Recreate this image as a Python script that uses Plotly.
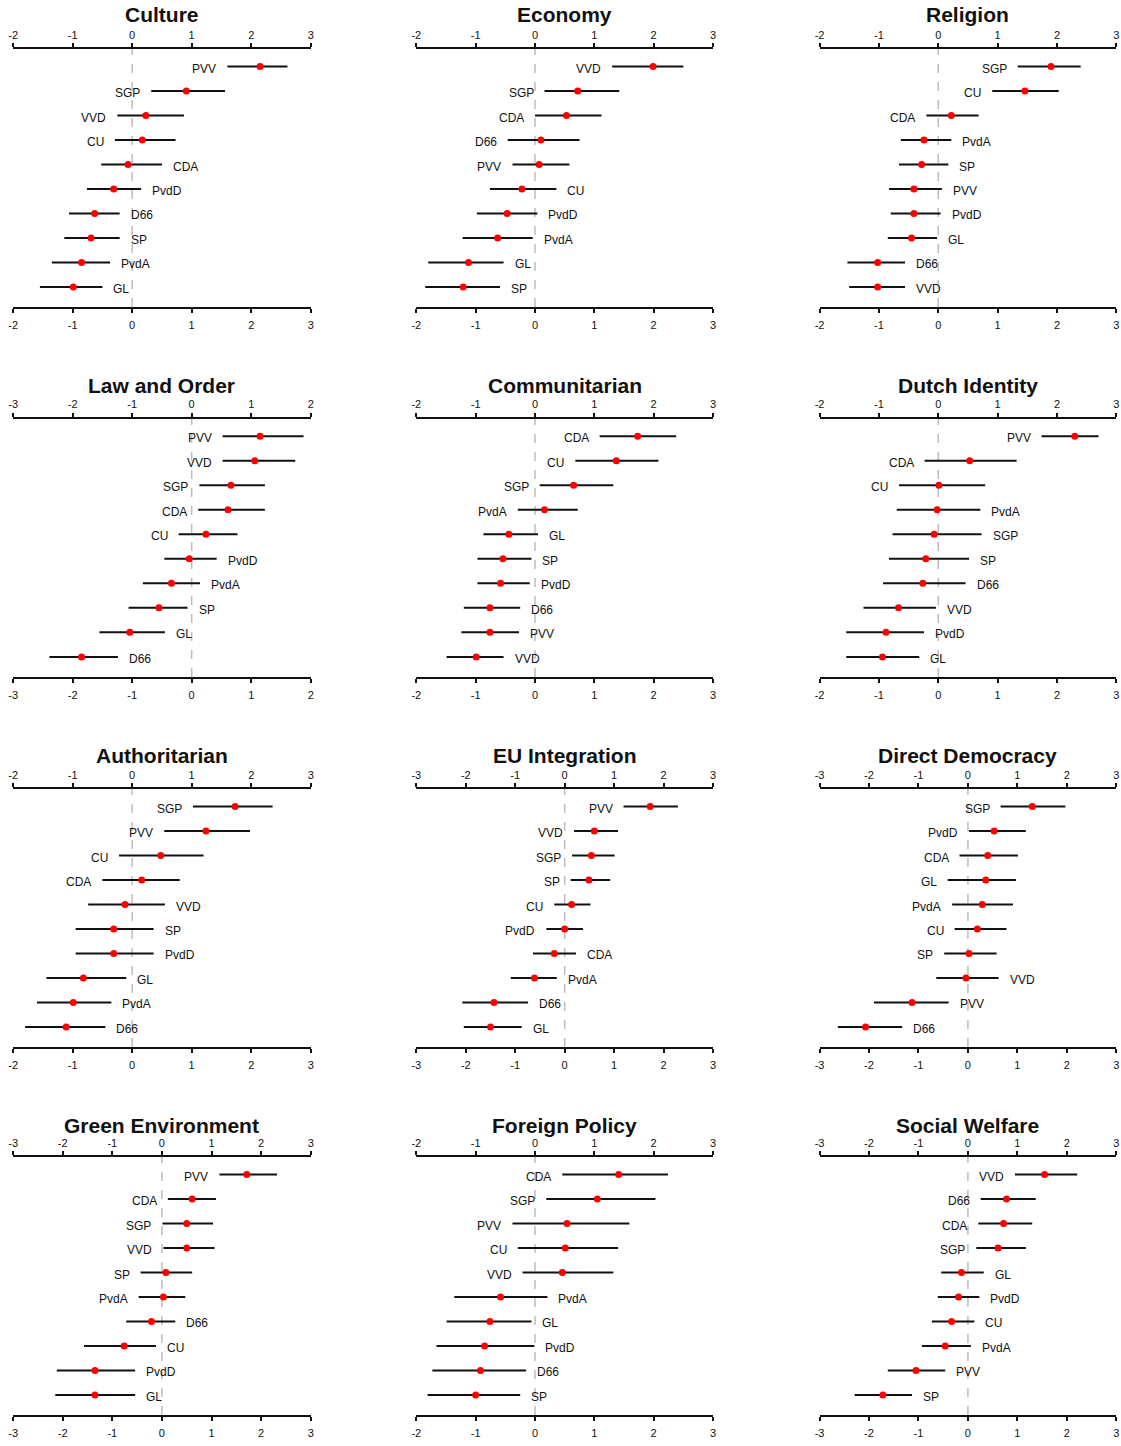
import plotly.graph_objects as go

# ---------------- data ----------------
titles = ["Culture", "Economy", "Religion",
          "Law and Order", "Communitarian", "Dutch Identity",
          "Authoritarian", "EU Integration", "Direct Democracy",
          "Green Environment", "Foreign Policy", "Social Welfare"]

axis_min = [-2, -2, -2, -3, -2, -2, -2, -3, -3, -3, -2, -3]
axis_max = [3, 3, 3, 2, 3, 3, 3, 3, 3, 3, 3, 3]

culture_parties = ["PVV", "SGP", "VVD", "CU", "CDA", "PvdD", "D66", "SP", "PvdA", "GL"]
culture_est = [2.15, 0.91, 0.23, 0.17, -0.07, -0.31, -0.63, -0.69, -0.85, -0.99]
culture_lo = [1.60, 0.32, -0.25, -0.29, -0.52, -0.76, -1.06, -1.14, -1.35, -1.55]
culture_hi = [2.61, 1.56, 0.87, 0.73, 0.50, 0.15, -0.21, -0.21, -0.37, -0.50]

economy_parties = ["VVD", "SGP", "CDA", "D66", "PVV", "CU", "PvdD", "PvdA", "GL", "SP"]
economy_est = [1.99, 0.72, 0.53, 0.10, 0.07, -0.22, -0.47, -0.63, -1.12, -1.21]
economy_lo = [1.30, 0.16, 0.00, -0.46, -0.38, -0.76, -0.98, -1.22, -1.80, -1.85]
economy_hi = [2.50, 1.42, 1.12, 0.75, 0.58, 0.36, 0.04, -0.04, -0.53, -0.59]

religion_parties = ["SGP", "CU", "CDA", "PvdA", "SP", "PVV", "PvdD", "GL", "D66", "VVD"]
religion_est = [1.90, 1.46, 0.22, -0.24, -0.28, -0.41, -0.41, -0.45, -1.02, -1.02]
religion_lo = [1.34, 0.91, -0.20, -0.63, -0.66, -0.83, -0.80, -0.85, -1.53, -1.50]
religion_hi = [2.40, 2.03, 0.68, 0.22, 0.17, 0.06, 0.04, -0.02, -0.56, -0.56]

law_parties = ["PVV", "VVD", "SGP", "CDA", "CU", "PvdD", "PvdA", "SP", "GL", "D66"]
law_est = [1.15, 1.06, 0.66, 0.61, 0.24, -0.04, -0.34, -0.55, -1.04, -1.85]
law_lo = [0.52, 0.52, 0.13, 0.11, -0.22, -0.46, -0.82, -1.06, -1.55, -2.39]
law_hi = [1.88, 1.74, 1.23, 1.23, 0.77, 0.42, 0.14, -0.07, -0.45, -1.24]

comm_parties = ["CDA", "CU", "SGP", "PvdA", "GL", "SP", "PvdD", "D66", "PVV", "VVD"]
comm_est = [1.73, 1.37, 0.65, 0.16, -0.44, -0.54, -0.58, -0.76, -0.76, -0.99]
comm_lo = [1.09, 0.68, 0.08, -0.29, -0.87, -0.97, -0.97, -1.20, -1.24, -1.49]
comm_hi = [2.38, 2.08, 1.32, 0.72, 0.05, -0.06, -0.09, -0.25, -0.27, -0.53]

dutch_parties = ["PVV", "CDA", "CU", "PvdA", "SGP", "SP", "D66", "VVD", "PvdD", "GL"]
dutch_est = [2.30, 0.53, 0.01, -0.02, -0.07, -0.21, -0.26, -0.67, -0.88, -0.94]
dutch_lo = [1.74, -0.23, -0.66, -0.70, -0.77, -0.83, -0.93, -1.26, -1.55, -1.55]
dutch_hi = [2.70, 1.32, 0.79, 0.71, 0.73, 0.52, 0.46, -0.04, -0.24, -0.32]

auth_parties = ["SGP", "PVV", "CU", "CDA", "VVD", "SP", "PvdD", "GL", "PvdA", "D66"]
auth_est = [1.73, 1.24, 0.48, 0.16, -0.12, -0.31, -0.31, -0.82, -0.99, -1.11]
auth_lo = [1.02, 0.54, -0.22, -0.50, -0.74, -0.95, -0.95, -1.44, -1.60, -1.80]
auth_hi = [2.36, 1.98, 1.20, 0.80, 0.55, 0.36, 0.36, -0.10, -0.35, -0.45]

eu_parties = ["PVV", "VVD", "SGP", "SP", "CU", "PvdD", "CDA", "PvdA", "D66", "GL"]
eu_est = [1.73, 0.60, 0.54, 0.49, 0.14, 0.00, -0.21, -0.61, -1.43, -1.50]
eu_lo = [1.19, 0.19, 0.15, 0.12, -0.21, -0.37, -0.64, -1.09, -2.07, -2.04]
eu_hi = [2.29, 1.08, 1.01, 0.92, 0.52, 0.37, 0.23, -0.16, -0.74, -0.87]

dd_parties = ["SGP", "PvdD", "CDA", "GL", "PvdA", "CU", "SP", "VVD", "PVV", "D66"]
dd_est = [1.30, 0.53, 0.40, 0.36, 0.29, 0.19, 0.02, -0.04, -1.13, -2.07]
dd_lo = [0.66, 0.02, -0.17, -0.41, -0.32, -0.27, -0.48, -0.64, -1.90, -2.63]
dd_hi = [1.97, 1.17, 1.01, 0.97, 0.91, 0.78, 0.58, 0.62, -0.39, -1.33]

green_parties = ["PVV", "CDA", "SGP", "VVD", "SP", "PvdA", "D66", "CU", "PvdD", "GL"]
green_est = [1.71, 0.61, 0.50, 0.50, 0.08, 0.03, -0.21, -0.76, -1.35, -1.35]
green_lo = [1.16, 0.12, 0.01, 0.03, -0.43, -0.47, -0.72, -1.57, -2.12, -2.15]
green_hi = [2.32, 1.09, 1.03, 1.06, 0.61, 0.47, 0.27, -0.12, -0.54, -0.54]

foreign_parties = ["CDA", "SGP", "PVV", "CU", "VVD", "PvdA", "GL", "PvdD", "D66", "SP"]
foreign_est = [1.41, 1.05, 0.54, 0.51, 0.46, -0.58, -0.76, -0.85, -0.92, -1.00]
foreign_lo = [0.46, 0.19, -0.38, -0.29, -0.21, -1.36, -1.49, -1.66, -1.73, -1.81]
foreign_hi = [2.24, 2.03, 1.59, 1.40, 1.32, 0.21, -0.06, -0.01, -0.15, -0.25]

social_parties = ["VVD", "D66", "CDA", "SGP", "GL", "PvdD", "CU", "PvdA", "PVV", "SP"]
social_est = [1.55, 0.78, 0.72, 0.61, -0.13, -0.19, -0.33, -0.46, -1.05, -1.72]
social_lo = [0.95, 0.26, 0.21, 0.17, -0.54, -0.61, -0.73, -0.93, -1.62, -2.29]
social_hi = [2.21, 1.37, 1.30, 1.17, 0.32, 0.23, 0.13, 0.06, -0.46, -1.13]

panels = [
    (culture_parties, culture_est, culture_lo, culture_hi),
    (economy_parties, economy_est, economy_lo, economy_hi),
    (religion_parties, religion_est, religion_lo, religion_hi),
    (law_parties, law_est, law_lo, law_hi),
    (comm_parties, comm_est, comm_lo, comm_hi),
    (dutch_parties, dutch_est, dutch_lo, dutch_hi),
    (auth_parties, auth_est, auth_lo, auth_hi),
    (eu_parties, eu_est, eu_lo, eu_hi),
    (dd_parties, dd_est, dd_lo, dd_hi),
    (green_parties, green_est, green_lo, green_hi),
    (foreign_parties, foreign_est, foreign_lo, foreign_hi),
    (social_parties, social_est, social_lo, social_hi),
]

# ---------------- layout geometry ----------------
W, H = 1121, 1446
col_px = [(8.2, 307.9), (414.3, 713.1), (820.4, 1119.3)]
row_px = [(49, 307), (418.5, 677), (789, 1047), (1157, 1415)]
title_px = [15, 386, 755, 1125]

FONT = "Liberation Sans, Arial, sans-serif"

fig = go.Figure()
layout = dict(
    width=W, height=H,
    margin=dict(l=0, r=0, t=0, b=0),
    paper_bgcolor="white", plot_bgcolor="white",
    showlegend=False,
    font=dict(family=FONT, color="#000"),
)
annotations = []
shapes = []


def axname(kind, i):
    return f"{kind}axis" if i == 1 else f"{kind}axis{i}"


def axref(kind, i):
    return kind if i == 1 else f"{kind}{i}"


for p, (parties, est, lo, hi) in enumerate(panels):
    r, c = divmod(p, 3)
    xb = p + 1          # bottom x axis / y axis index
    xt = p + 13         # top x axis index
    n = len(parties)
    ypos = list(range(1, n + 1))
    x0, x1 = col_px[c]
    yt, yb = row_px[r]
    rng = [axis_min[p], axis_max[p]]
    tv = list(range(axis_min[p], axis_max[p] + 1))

    common = dict(range=rng, tickmode="array", tickvals=tv,
                  ticktext=[str(v) for v in tv],
                  showgrid=False, zeroline=False, showline=True,
                  linecolor="#111", linewidth=2,
                  ticks="outside", ticklen=4, tickwidth=1.5, tickcolor="#111",
                  tickfont=dict(family=FONT, size=11, color="#111"),
                  fixedrange=True)
    layout[axname("x", xb)] = dict(domain=[x0 / W, x1 / W], anchor=axref("y", xb),
                                    side="bottom", ticklabelstandoff=3, **common)
    layout[axname("x", xt)] = dict(overlaying=axref("x", xb), anchor=axref("y", xb),
                                    side="top", ticklabelstandoff=0, **common)
    layout[axname("y", xb)] = dict(domain=[1 - yb / H, 1 - yt / H], anchor=axref("x", xb),
                                    range=[n + 0.82, 0.28], visible=False, fixedrange=True)

    # confidence intervals
    lx, ly = [], []
    for y, a, b in zip(ypos, lo, hi):
        lx += [a, b, None]
        ly += [y, y, None]
    fig.add_trace(go.Scatter(x=lx, y=ly, mode="lines",
                             line=dict(color="#111", width=2),
                             xaxis=axref("x", xb), yaxis=axref("y", xb),
                             hoverinfo="skip"))
    # point estimates (on the top axis so that it is drawn above)
    fig.add_trace(go.Scatter(x=est, y=ypos, mode="markers",
                             marker=dict(color="#ff0000", size=7),
                             xaxis=axref("x", xt), yaxis=axref("y", xb),
                             text=parties, hoverinfo="text+x"))

    # zero reference line
    shapes.append(dict(type="line", xref=axref("x", xb), yref=axref("y", xb) + " domain",
                       x0=0, x1=0, y0=0, y1=1,
                       line=dict(color="#bdbdbd", width=1.5, dash="dash"), layer="below"))

    # party labels
    for y, e, a, b, name in zip(ypos, est, lo, hi, parties):
        left = e >= 0
        annotations.append(dict(
            x=a if left else b, y=y, xref=axref("x", xb), yref=axref("y", xb),
            text=name, showarrow=False,
            xanchor="right" if left else "left", yanchor="middle",
            xshift=-9 if left else 9, yshift=-2,
            font=dict(family=FONT, size=12, color="#111")))

    # panel title
    annotations.append(dict(
        x=(x0 + x1) / 2 / W, y=1 - title_px[r] / H, xref="paper", yref="paper",
        text=f"<b>{titles[p]}</b>", showarrow=False,
        xanchor="center", yanchor="middle",
        font=dict(family=FONT, size=21, color="#111")))

layout["annotations"] = annotations
layout["shapes"] = shapes
fig.update_layout(**layout)
fig.write_html("out.html",
               config={"displayModeBar": False},
               post_script="document.body.style.margin='0';document.body.style.overflow='hidden';")
